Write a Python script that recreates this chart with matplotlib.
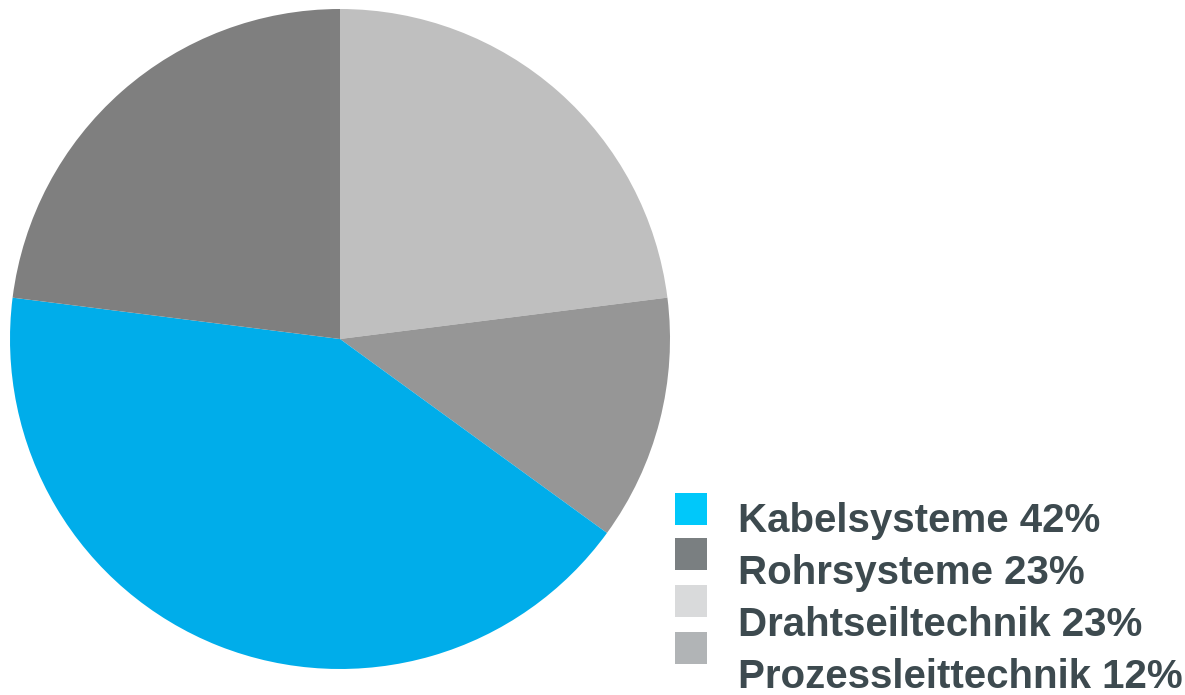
import matplotlib.pyplot as plt
from matplotlib.patches import Rectangle

# DATA ------------------------------------------------------------------------
# pie order (clockwise from 12 o'clock)
pie_labels = ['Drahtseiltechnik', 'Prozessleittechnik', 'Kabelsysteme',
              'Rohrsysteme']
pie_values = [23, 12, 42, 23]
pie_colors = ['#bfbfbf', '#969696', '#00adea', '#7f7f7f']

# legend order
legend_labels = ['Kabelsysteme 42%', 'Rohrsysteme 23%',
                 'Drahtseiltechnik 23%', 'Prozessleittechnik 12%']
legend_colors = ['#00c8fa', '#7a7f81', '#d9dadb', '#b1b4b6']

W, H = 1185, 695
fig = plt.figure(figsize=(W / 100, H / 100), dpi=100)

# pie axes: centre (340, 339), radius 330 px
ax = fig.add_axes([10 / W, (H - 669) / H, 660 / W, 660 / H])
ax.pie(pie_values, colors=pie_colors, startangle=90, counterclock=False,
       radius=1.0, wedgeprops=dict(linewidth=0))
ax.set_xlim(-1, 1)
ax.set_ylim(-1, 1)
ax.set_aspect('equal')
ax.axis('off')

# legend drawn by hand
box_tops = [493, 538, 585, 632]
text_baselines = [532, 584, 636, 688]
for top, base, lab, col in zip(box_tops, text_baselines, legend_labels,
                               legend_colors):
    fig.patches.append(Rectangle((675 / W, (H - top - 32) / H), 32 / W,
                                 32 / H, transform=fig.transFigure,
                                 facecolor=col, edgecolor='none'))
    fig.text(738 / W, (H - base) / H, lab, fontsize=29, fontweight='bold',
             family='Liberation Sans', color='#3d4a4f', va='baseline',
             ha='left')

fig.savefig('out.png', dpi=100)
